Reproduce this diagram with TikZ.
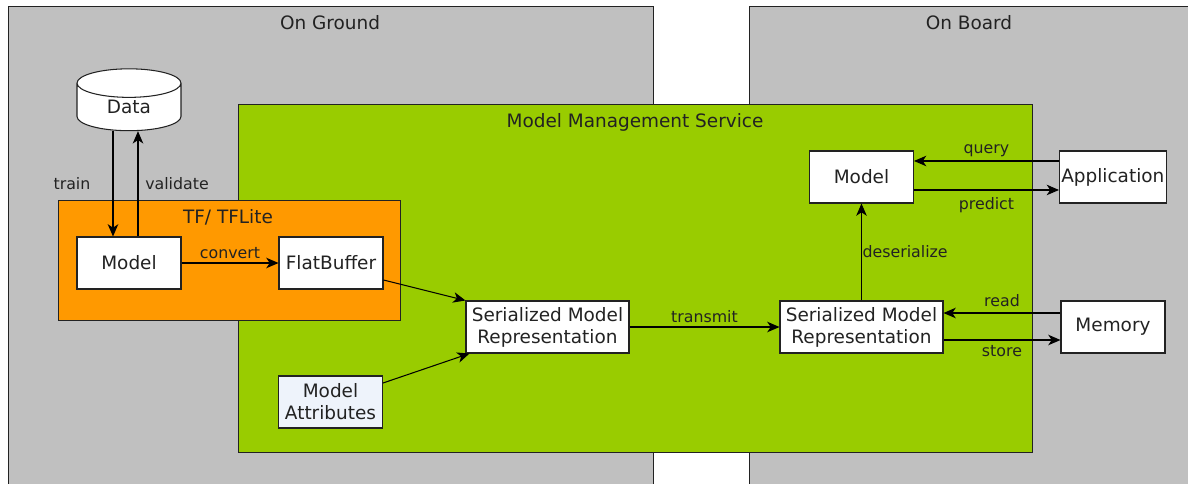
\documentclass[tikz,border=0pt]{standalone}
\usepackage{fontspec}
\setmainfont{DejaVu Sans}
\usepackage{tikz}
\usetikzlibrary{
  shapes.geometric,
  arrows.meta,
  positioning
}
\definecolor{GroundGray}{HTML}{C0C0C0}
\definecolor{ServiceGreen}{HTML}{99CC00}
\definecolor{TFOrange}{HTML}{FF9900}
\definecolor{AttrBlue}{HTML}{EEF3FB}
\definecolor{InkGray}{HTML}{222222}
\tikzset{
  % Large background zone
  zone/.style={
    rectangle, anchor=north west, inner sep=0pt,
    draw=InkGray, fill=#1, line width=0.6pt
  },
  % Zone title
  zonelbl/.style={font=\fontsize{10.5}{12}\selectfont, text=InkGray},
  % Plain white box
  box/.style={
    rectangle, draw=InkGray, fill=#1, line width=0.6pt,
    minimum width=2.08cm, minimum height=1.04cm, inner sep=1pt,
    align=center, font=\fontsize{10.5}{12.5}\selectfont, text=InkGray
  },
  box/.default=white,
  % Data store cylinder
  dbs/.style={
    cylinder, shape border rotate=90, aspect=0.6,
    draw=InkGray, fill=white, line width=0.6pt,
    minimum width=2.08cm, minimum height=1.22cm, inner sep=1pt,
    font=\fontsize{10.5}{12.5}\selectfont, text=InkGray
  },
  % Arrow
  arr/.style={-{Stealth[length=7pt,width=6pt,inset=2pt]}, line width=0.6pt},
  % Edge label
  lbl/.style={font=\fontsize{9}{11}\selectfont, text=InkGray, inner sep=2pt}
}

\begin{document}
\begin{tikzpicture}[x=0.02cm, y=-0.02cm, node distance=0.7cm]
  \useasboundingbox (0,0) rectangle (1188,484);

  % Zones
  \node[zone=GroundGray, minimum width=12.9cm, minimum height=10cm] (ground) at (8,6) {};
  \node[zone=GroundGray, minimum width=10cm, minimum height=10cm]   (board)  at (749,6) {};
  \node[zonelbl] (groundlbl) at (330,23) {On Ground};
  \node[zonelbl] (boardlbl)  at (969,23) {On Board};

  \node[zone=ServiceGreen, minimum width=15.88cm, minimum height=6.96cm] (mms) at (238,104) {};
  \node[zonelbl] (mmslbl) at (635,122) {Model Management Service};

  \node[zone=TFOrange, minimum width=6.84cm, minimum height=2.4cm] (tf) at (58,200) {};
  \node[zonelbl] (tflbl) at (228,217) {TF/ TFLite};

  % Ground side
  \node[dbs]                         (data)   at (129,109) {\raisebox{3pt}{Data}};
  \node[box]                         (gmodel) at (129,263) {Model};
  \node[box, right=1.94cm of gmodel] (flat)   {FlatBuffer};
  \node[box=AttrBlue, align=center]  (attr)   at (330.5,402) {Model\\Attributes};

  % Service
  \node[box, minimum width=3.26cm] (smr1) at (547.5,327) {Serialized Model\\Representation};
  \node[box, minimum width=3.26cm, right=3cm of smr1]    (smr2)  {Serialized Model\\Representation};
  \node[box, above=1.94cm of smr2]                      (bmodel) {Model};

  % Board side
  \node[box, right=2.9cm of bmodel] (app) {Application};
  \node[box, right=2.34cm of smr2]  (mem) {Memory};

  \draw[arr] ([xshift=-0.32cm]data.south) -- ([xshift=-0.32cm]gmodel.north);
  \draw[arr] ([xshift=0.18cm]gmodel.north) -- ([xshift=0.18cm]data.south);
  \node[lbl] (trainlbl)    at (72,184)  {train};
  \node[lbl] (validatelbl) at (177,184) {validate};

  \draw[arr] (gmodel.east) -- node[lbl, above]{convert} (flat.west);
  \draw[arr] ([yshift=-0.34cm]flat.east) -- (smr1.north west);
  \draw[arr] ([yshift=0.38cm]attr.east) -- ([xshift=0.08cm]smr1.south west);
  \draw[arr] (smr1.east) -- node[lbl, above]{transmit} (smr2.west);
  \draw[arr] (smr2.north) -- node[lbl, anchor=west, xshift=-0.06cm]{deserialize} (bmodel.south);

  \draw[arr] ([yshift=0.32cm]app.west) -- node[lbl, above]{query} ([yshift=0.32cm]bmodel.east);
  \draw[arr] ([yshift=-0.26cm]bmodel.east) -- node[lbl, below, yshift=-2pt]{predict} ([yshift=-0.26cm]app.west);
  \draw[arr] ([yshift=0.28cm]mem.west) -- node[lbl, above, yshift=1pt]{read} ([yshift=0.28cm]smr2.east);
  \draw[arr] ([yshift=-0.26cm]smr2.east) -- node[lbl, below, yshift=-1pt]{store} ([yshift=-0.26cm]mem.west);

\end{tikzpicture}
\end{document}
